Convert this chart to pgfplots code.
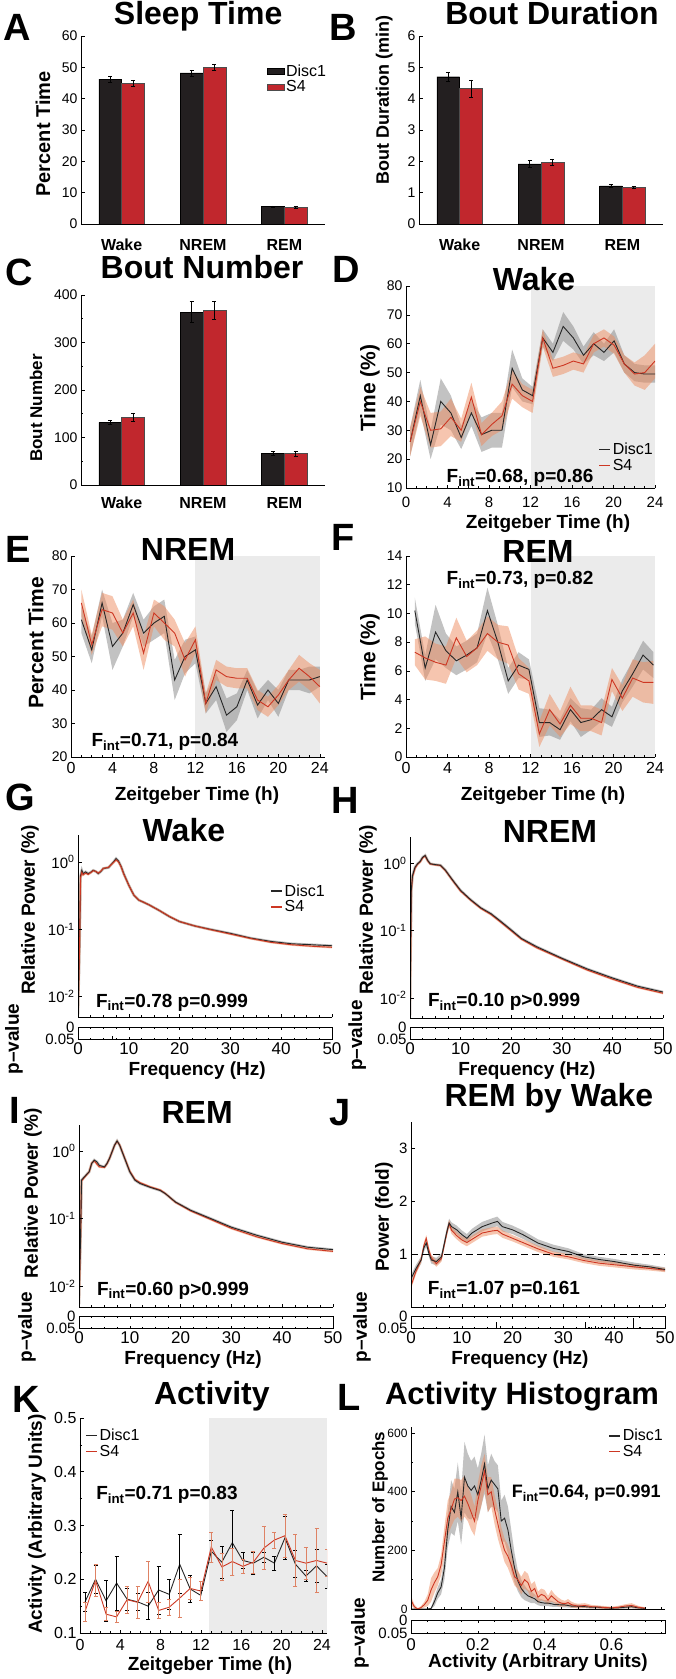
\documentclass[border=0pt]{standalone}
\usepackage{fontspec}
\setmainfont{Liberation Sans}
\usepackage{pgfplots}
\pgfplotsset{compat=1.18}
\usepackage{pgfplotstable}

\definecolor{barblk}{RGB}{35,31,32}
\definecolor{barred}{RGB}{193,39,45}
\definecolor{linered}{RGB}{205,55,35}
\definecolor{bandred}{RGB}{238,140,95}
\definecolor{bandgray}{RGB}{120,120,120}
\definecolor{shade}{RGB}{235,235,235}
\definecolor{errred}{RGB}{222,130,100}

\newcommand\ttl{\fontsize{32}{36}\selectfont\bfseries}
\newcommand\letr{\fontsize{38}{40}\selectfont\bfseries}
\newcommand\lab{\fontsize{19}{22}\selectfont\bfseries}
\newcommand\tck{\fontsize{14}{16}\selectfont}
\newcommand\xtck{\fontsize{16}{18}\selectfont}
\newcommand\ann{\fontsize{19}{22}\selectfont\bfseries}
\newcommand\leg{\fontsize{16}{18}\selectfont}
\newcommand\cat{\fontsize{16}{18}\selectfont\bfseries}

\pgfplotsset{
  every axis/.append style={scale only axis, axis on top,
    axis line style={line width=0.7pt, black},
    tick style={line width=0.6pt, black},
    major tick length=3.5pt, minor tick length=2pt, tick align=inside,
    tick label style={font=\tck},
    /pgf/number format/assume math mode=true,
    title style={font=\ttl}, label style={font=\lab},
    legend style={draw=none, fill=none, font=\leg, inner sep=0pt, row sep=-1pt},
    legend cell align=left},
  boxoff/.style={axis x line*=bottom, axis y line*=left},
  lineleg/.style={legend image code/.code={\draw[##1, line width=1.5pt] (0pt,0pt) -- (11pt,0pt);}},
  grayband/.style={fill=bandgray, fill opacity=0.45, draw=none, forget plot},
  redband/.style={fill=bandred, fill opacity=0.5, draw=none, forget plot},
  blkline/.style={black!85, line width=0.9pt},
  redline/.style={linered, line width=0.9pt},
  strip/.style={y dir=reverse, ymin=0, ymax=0.05, ytick={0,0.05}, yticklabels={0,0.05},
    scaled y ticks=false, scaled x ticks=false,
    major tick length=2.5pt, minor tick length=1.5pt,
    yticklabel style={font=\fontsize{15}{16}\selectfont},
    xticklabel style={font=\fontsize{17}{18}\selectfont, anchor=base, yshift=-15pt},
    ylabel={p–value}, xlabel style={anchor=base}, ylabel style={anchor=center}},
}

% band between mean-err and mean+err (stacked area), stack reset afterwards
\newcommand\band[5]{%
  \addplot[draw=none, forget plot, stack plots=y] table[x=#1, y expr=\thisrow{#2}-\thisrow{#3}] {#4};
  \addplot[#5, stack plots=y] table[x=#1, y expr=2*\thisrow{#3}] {#4} \closedcycle;
  \addplot[draw=none, forget plot, stack plots=y] table[x=#1, y expr=-\thisrow{#2}-\thisrow{#3}] {#4};
}

\pgfplotstableread{
x b be r re
1 46.2 0.9 44.8 1.0
2 48.2 0.9 49.9 1.0
3 5.6 0.2 5.3 0.4
}\Atab
\pgfplotstableread{
x b be r re
1 4.70 0.15 4.32 0.28
2 1.92 0.10 1.97 0.11
3 1.22 0.05 1.17 0.04
}\Btab
\pgfplotstableread{
x b be r re
1 132 4 143 9
2 364 22 367 19
3 66 4 66 6
}\Ctab

\pgfplotstableread{
x bm be rm re
0.40 26 5 26 5
1.38 42 5.5 40 5
2.37 25 5 30 6
3.35 40 8 30.5 6
4.33 36 6 34.5 6.5
5.32 27.5 4 30 4
6.30 36 4.5 41.5 5
7.28 28.5 6 28.5 4
8.26 30 6 32 4
9.25 30 6 35 5
10.23 51.5 6.5 46 5
11.21 44 4 42 4
12.20 42 3 40 4
13.18 62 3 62 3
14.16 57 3 51.5 3
15.15 66 5 52.5 3
16.13 62 4 54 3
17.11 56 3 53 3
18.09 60 4 60 3
19.08 57 3 62 3
20.06 61 4 59.5 3
21.04 53 3 53 3
22.03 50 3 49.5 4
23.01 49.5 3 50 6
24.00 49.5 3 54 6
}\Dtab

\pgfplotstableread{
x bm be rm re
1 61 4 66 4
2 52 4 53.5 3
3 66 4 64 5
4 53 7 63 5
5 57 4 57 4
6 65.5 3.5 63 4
7 57 4 51 5
8 60 5 63 4
9 62 5 60 5
10 43 6 57 4
11 50 5 49 5
12 52 4 55 4
13 36 3 36 3
14 41 4 46 3
15 32.5 5 44 3
16 35 4 43.5 3
17 43 3 43.5 3
18 35.5 4 37 3
19 40 3 35 3
20 36 4 38.5 3
21 43 3 43 3
22 43 3 46.5 4
23 43 4 44 4
24 44 3 41 5
}\Etab

\pgfplotstableread{
x bm be rm re
0.85 10.2 0.9 7.3 0.9
1.85 6.2 0.9 6.9 1.5
2.85 8.7 1.9 6.6 1.3
3.85 7.4 1.2 6.4 1.3
4.85 6.7 1.0 8.3 1.4
5.85 7.1 1.0 7.0 1.1
6.85 7.6 1.0 7.6 1.2
7.85 10.2 1.6 8.6 1.2
8.85 8.0 1.2 8.0 1.2
9.85 5.3 0.9 7.8 1.3
10.85 6.4 0.9 5.8 1.1
11.85 6.1 0.7 5.3 0.9
12.85 2.4 1.0 1.6 0.9
13.85 2.4 0.9 3.3 1.1
14.85 1.9 0.7 2.3 0.9
15.85 3.3 0.8 3.6 1.3
16.85 2.4 1.0 2.7 0.9
17.85 2.6 0.7 2.7 0.9
18.85 3.3 0.8 2.4 0.9
19.85 2.8 0.7 5.4 0.8
20.85 4.6 0.8 4.1 0.9
21.85 5.8 0.9 5.5 1.3
22.85 7.1 1.0 5.2 1.4
23.85 6.4 0.9 5.2 1.5
}\Ftab

\pgfplotstableread{
f bm rm
0 0.0055 0.0055
0.3 0.05 0.05
0.5 0.62 0.58
0.75 0.75 0.70
1 0.67 0.64
1.5 0.71 0.68
2 0.67 0.65
2.5 0.70 0.69
3 0.75 0.74
3.5 0.72 0.72
4 0.67 0.68
4.5 0.72 0.73
5 0.80 0.80
6 0.82 0.83
7 1.00 0.98
7.5 1.12 1.07
8 1.02 0.99
8.5 0.85 0.84
9 0.67 0.66
10 0.45 0.45
11 0.32 0.32
12 0.27 0.27
13 0.25 0.25
14 0.23 0.23
16 0.19 0.19
18 0.154 0.155
20 0.13 0.13
23 0.112 0.112
26 0.100 0.099
30 0.087 0.085
34 0.074 0.073
38 0.066 0.064
42 0.061 0.059
46 0.059 0.056
50 0.057 0.054
}\Gtab

\pgfplotstableread{
f bm rm
0 0.0055 0.0055
0.25 0.4 0.38
0.5 0.67 0.64
1 0.89 0.86
1.5 1.0 0.98
2 1.08 1.06
2.5 1.25 1.22
3 1.33 1.30
3.5 1.12 1.10
4 1.0 0.99
5 0.97 0.96
6 0.95 0.94
7 0.80 0.79
8 0.63 0.62
9 0.50 0.49
10 0.40 0.39
12 0.29 0.285
14 0.22 0.215
16 0.18 0.175
18 0.137 0.133
20 0.103 0.100
22 0.077 0.075
25 0.058 0.056
30 0.039 0.038
35 0.027 0.026
40 0.0198 0.019
45 0.0149 0.0143
50 0.0122 0.0117
}\Htab

\pgfplotstableread{
f bm rm
0 0.0055 0.0055
0.3 0.05 0.05
0.5 0.37 0.36
1 0.41 0.40
2 0.49 0.49
2.5 0.65 0.66
3 0.73 0.71
3.5 0.69 0.64
4 0.61 0.58
5 0.58 0.57
5.5 0.65 0.64
6 0.77 0.77
7 1.21 1.20
7.5 1.40 1.38
8 1.21 1.22
9 0.77 0.78
10 0.49 0.50
11 0.37 0.38
12 0.33 0.34
14 0.29 0.295
16 0.26 0.265
17 0.234 0.235
19 0.176 0.174
22 0.133 0.130
26 0.100 0.097
30 0.075 0.072
35 0.057 0.054
40 0.045 0.043
45 0.038 0.036
50 0.035 0.033
}\Itab

\pgfplotstableread{
f bm be rm re
0 0.54 0.07 0.40 0.06
1 0.73 0.07 0.68 0.06
2 0.89 0.07 0.90 0.06
2.5 1.11 0.07 1.15 0.06
3 1.21 0.07 1.30 0.06
3.5 1.02 0.07 1.08 0.06
4 0.89 0.07 0.93 0.06
5 0.86 0.07 0.82 0.06
6 0.95 0.07 0.92 0.06
7 1.40 0.08 1.38 0.07
7.5 1.59 0.08 1.58 0.07
8 1.52 0.08 1.45 0.07
9 1.46 0.08 1.35 0.07
10 1.37 0.08 1.27 0.07
11 1.30 0.08 1.22 0.07
12 1.40 0.08 1.28 0.07
14 1.52 0.09 1.40 0.07
16 1.59 0.09 1.44 0.07
17 1.62 0.09 1.45 0.07
18 1.52 0.09 1.38 0.07
20 1.46 0.08 1.30 0.06
22 1.37 0.08 1.22 0.06
25 1.21 0.07 1.10 0.06
28 1.11 0.07 1.00 0.05
31 1.05 0.06 0.95 0.05
34 0.95 0.05 0.88 0.05
37 0.90 0.05 0.83 0.05
40 0.86 0.05 0.80 0.05
44 0.79 0.05 0.76 0.05
47 0.76 0.04 0.73 0.04
50 0.71 0.04 0.70 0.04
}\Jtab

\pgfplotstableread{
x bm be rm re
0.50 0.158 0.017 0.140 0.018
1.54 0.200 0.026 0.198 0.030
2.59 0.160 0.038 0.135 0.012
3.63 0.193 0.050 0.130 0.010
4.67 0.163 0.020 0.162 0.025
5.72 0.158 0.015 0.157 0.030
6.76 0.150 0.025 0.196 0.038
7.80 0.180 0.045 0.142 0.015
8.85 0.172 0.028 0.148 0.015
9.89 0.228 0.055 0.165 0.035
10.93 0.182 0.025 0.183 0.020
11.98 0.170 0.010 0.178 0.018
13.02 0.252 0.020 0.260 0.028
14.07 0.232 0.030 0.223 0.025
15.11 0.268 0.060 0.233 0.025
16.15 0.235 0.015 0.224 0.013
17.20 0.230 0.020 0.232 0.020
18.24 0.241 0.010 0.258 0.040
19.28 0.230 0.013 0.273 0.015
20.33 0.277 0.040 0.281 0.040
21.37 0.228 0.025 0.235 0.048
22.41 0.206 0.010 0.230 0.030
23.46 0.225 0.030 0.235 0.060
24.50 0.205 0.022 0.230 0.025
}\Ktab

\pgfplotstableread{
x bm be rm re
0.00 0 0 30 15
0.01 0 0 8 8
0.02 0 0 0 3
0.03 0 0 5 5
0.04 0 0 15 10
0.05 0 0 30 20
0.06 2 3 65 40
0.07 25 15 90 35
0.08 55 20 110 30
0.09 75 25 150 35
0.10 140 40 230 50
0.11 270 60 310 60
0.12 350 90 340 60
0.13 330 80 375 70
0.14 400 100 380 65
0.15 310 90 370 70
0.16 450 120 385 70
0.17 420 110 360 60
0.18 405 100 330 60
0.19 420 100 300 50
0.20 390 90 370 60
0.21 440 90 420 70
0.22 495 100 470 60
0.23 410 80 390 60
0.24 440 90 400 50
0.25 425 80 340 50
0.26 410 80 290 50
0.27 300 70 240 40
0.28 310 80 200 40
0.29 270 80 180 40
0.30 200 70 150 40
0.31 140 50 110 30
0.32 95 35 100 30
0.33 70 30 80 30
0.34 55 25 100 30
0.35 45 20 90 30
0.36 40 20 60 25
0.37 35 15 70 25
0.38 25 12 40 20
0.39 22 12 50 20
0.40 20 10 45 20
0.41 20 10 30 15
0.42 18 10 45 20
0.43 15 8 35 15
0.44 15 8 25 15
0.45 14 8 20 12
0.46 14 8 18 10
0.47 12 7 22 12
0.48 10 6 15 10
0.49 10 6 12 8
0.50 9 6 10 8
0.52 8 5 12 8
0.54 6 5 8 6
0.56 6 5 7 5
0.58 4 4 5 5
0.60 3 3 4 4
0.62 4 4 6 5
0.64 6 5 10 6
0.66 8 6 12 8
0.68 4 4 6 5
0.70 2 2 3 3
}\Ltab

\begin{document}
\begin{tikzpicture}
\path[use as bounding box] (0,0) rectangle (675pt,-1679pt);

% ---------------- A
\begin{axis}[boxoff, at={(81pt,-224pt)}, anchor=south west, width=244pt, height=188pt,
  xmin=0.5, xmax=3.5, ymin=0, ymax=60, xtick={1,2,3}, xticklabels={Wake,NREM,REM},
  xtick style={draw=none}, xticklabel style={font=\cat, anchor=base, yshift=-23pt},
  ytick={0,10,...,60}, ybar, bar width=0.28,
  title={Sleep Time}, title style={at={(axis description cs:0.48,1.027)}, anchor=base},
  ylabel={Percent Time}, ylabel style={font=\fontsize{20}{22}\selectfont\bfseries, at={(axis description cs:-0.156,0.479)}, anchor=center},
  legend style={at={(axis description cs:0.76,0.86)}, anchor=north west}, area legend]
\addplot[fill=barblk, draw=black, line width=0.4pt, bar shift=-0.14,
  error bars/.cd, y dir=both, y explicit, error bar style={line width=0.6pt, black},
  error mark options={rotate=90, mark size=2pt, line width=0.6pt, black}]
  table[x=x, y=b, y error=be]{\Atab};
\addlegendentry{Disc1}
\addplot[fill=barred, draw=black!70, line width=0.4pt, bar shift=0.14,
  error bars/.cd, y dir=both, y explicit, error bar style={line width=0.6pt, black},
  error mark options={rotate=90, mark size=2pt, line width=0.6pt, black}]
  table[x=x, y=r, y error=re]{\Atab};
\addlegendentry{S4}
\end{axis}

% ---------------- B
\begin{axis}[boxoff, at={(419pt,-224pt)}, anchor=south west, width=244pt, height=188pt,
  xmin=0.5, xmax=3.5, ymin=0, ymax=6, xtick={1,2,3}, xticklabels={Wake,NREM,REM},
  xtick style={draw=none}, xticklabel style={font=\cat, anchor=base, yshift=-23pt},
  ytick={0,1,...,6}, ybar, bar width=0.28,
  title={Bout Duration}, title style={at={(axis description cs:0.545,1.027)}, anchor=base},
  ylabel={Bout Duration (min)}, ylabel style={font=\fontsize{18}{20}\selectfont\bfseries, at={(axis description cs:-0.143,0.66)}, anchor=center}]
\addplot[fill=barblk, draw=black, line width=0.4pt, bar shift=-0.14,
  error bars/.cd, y dir=both, y explicit, error bar style={line width=0.6pt, black},
  error mark options={rotate=90, mark size=2pt, line width=0.6pt, black}]
  table[x=x, y=b, y error=be]{\Btab};
\addplot[fill=barred, draw=black!70, line width=0.4pt, bar shift=0.14,
  error bars/.cd, y dir=both, y explicit, error bar style={line width=0.6pt, black},
  error mark options={rotate=90, mark size=2pt, line width=0.6pt, black}]
  table[x=x, y=r, y error=re]{\Btab};
\end{axis}

% ---------------- C
\begin{axis}[boxoff, at={(81pt,-485pt)}, anchor=south west, width=244pt, height=190pt,
  xmin=0.5, xmax=3.5, ymin=0, ymax=400, xtick={1,2,3}, xticklabels={Wake,NREM,REM},
  xtick style={draw=none}, xticklabel style={font=\cat, anchor=base, yshift=-20pt},
  ytick={0,100,...,400}, minor ytick={50,150,250,350}, ybar, bar width=0.28,
  title={Bout Number}, title style={at={(axis description cs:0.496,1.053)}, anchor=base},
  ylabel={Bout Number}, ylabel style={font=\fontsize{17}{20}\selectfont\bfseries, at={(axis description cs:-0.184,0.405)}, anchor=center}]
\addplot[fill=barblk, draw=black, line width=0.4pt, bar shift=-0.14,
  error bars/.cd, y dir=both, y explicit, error bar style={line width=0.6pt, black},
  error mark options={rotate=90, mark size=2pt, line width=0.6pt, black}]
  table[x=x, y=b, y error=be]{\Ctab};
\addplot[fill=barred, draw=black!70, line width=0.4pt, bar shift=0.14,
  error bars/.cd, y dir=both, y explicit, error bar style={line width=0.6pt, black},
  error mark options={rotate=90, mark size=2pt, line width=0.6pt, black}]
  table[x=x, y=r, y error=re]{\Ctab};
\end{axis}

% ---------------- D
\begin{axis}[boxoff, at={(406pt,-488pt)}, anchor=south west, width=249pt, height=202pt,
  xmin=0, xmax=24, ymin=10, ymax=80, xtick={0,4,...,24}, minor xtick={0,1,...,24}, ytick={10,20,...,80},
  xticklabel style={font=\fontsize{15}{16}\selectfont, anchor=base, yshift=-19pt},
  title={Wake}, title style={at={(axis description cs:0.514,0.946)}, anchor=base},
  ylabel={Time (\%)}, ylabel style={font=\fontsize{21}{22}\selectfont\bfseries, at={(axis description cs:-0.145,0.495)}, anchor=center},
  xlabel={Zeitgeber Time (h)}, xlabel style={at={(axis description cs:0.570,-0.198)}, anchor=base},
  legend style={at={(axis description cs:1,0.07)}, anchor=south east}, lineleg]
\addplot[fill=shade, draw=none, forget plot] coordinates {(12,10) (24,10) (24,80) (12,80)};
\band{x}{bm}{be}{\Dtab}{grayband}
\band{x}{rm}{re}{\Dtab}{redband}
\addplot[blkline] table[x=x, y=bm]{\Dtab}; \addlegendentry{Disc1}
\addplot[redline] table[x=x, y=rm]{\Dtab}; \addlegendentry{S4}
\node[anchor=base, font=\ann] at (axis description cs:0.458,0.025) {F\textsubscript{int}=0.68, p=0.86};
\end{axis}

% ---------------- E
\begin{axis}[boxoff, at={(71pt,-757pt)}, anchor=south west, width=254pt, height=201pt,
  xmin=0, xmax=24.5, ymin=20, ymax=80, xtick={0,4,...,24}, minor xtick={0,1,...,24}, ytick={20,30,...,80},
  xticklabel style={font=\xtck, anchor=base, yshift=-16pt},
  title={NREM}, title style={at={(axis description cs:0.461,0.950)}, anchor=base},
  ylabel={Percent Time}, ylabel style={font=\fontsize{21}{22}\selectfont\bfseries, at={(axis description cs:-0.138,0.567)}, anchor=center},
  xlabel={Zeitgeber Time (h)}, xlabel style={at={(axis description cs:0.496,-0.214)}, anchor=base}]
\addplot[fill=shade, draw=none, forget plot] coordinates {(12,20) (24,20) (24,80) (12,80)};
\band{x}{bm}{be}{\Etab}{grayband}
\band{x}{rm}{re}{\Etab}{redband}
\addplot[blkline] table[x=x, y=bm]{\Etab};
\addplot[redline] table[x=x, y=rm]{\Etab};
\node[anchor=base, font=\ann] at (axis description cs:0.370,0.050) {F\textsubscript{int}=0.71, p=0.84};
\end{axis}

% ---------------- F
\begin{axis}[boxoff, at={(406pt,-757pt)}, anchor=south west, width=249pt, height=201pt,
  xmin=0, xmax=24, ymin=0, ymax=14, xtick={0,4,...,24}, minor xtick={0,1,...,24}, ytick={0,2,...,14},
  xticklabel style={font=\xtck, anchor=base, yshift=-16pt},
  title={REM}, title style={at={(axis description cs:0.530,0.940)}, anchor=base},
  ylabel={Time (\%)}, ylabel style={font=\fontsize{21}{22}\selectfont\bfseries, at={(axis description cs:-0.145,0.498)}, anchor=center},
  xlabel={Zeitgeber Time (h)}, xlabel style={at={(axis description cs:0.550,-0.214)}, anchor=base}]
\addplot[fill=shade, draw=none, forget plot] coordinates {(12,0) (24,0) (24,14) (12,14)};
\band{x}{bm}{be}{\Ftab}{grayband}
\band{x}{rm}{re}{\Ftab}{redband}
\addplot[blkline] table[x=x, y=bm]{\Ftab};
\addplot[redline] table[x=x, y=rm]{\Ftab};
\node[anchor=base, font=\ann] at (axis description cs:0.458,0.856) {F\textsubscript{int}=0.73, p=0.82};
\end{axis}

% ---------------- G
\begin{axis}[boxoff, ymode=log, at={(78pt,-1017pt)}, anchor=south west, width=254pt, height=182pt,
  xmin=0, xmax=50, ymin=0.005, ymax=2.5, xtick={0,10,...,50}, minor xtick={0,2.5,...,50}, xticklabels={},
  ytick={0.01,0.1,1}, yticklabels={10\textsuperscript{-2},10\textsuperscript{-1},10\textsuperscript{0}}, yminorticks=false,
  yticklabel style={font=\fontsize{15}{16}\selectfont},
  title={Wake}, title style={at={(axis description cs:0.417,0.934)}, anchor=base},
  ylabel={Relative Power (\%)}, ylabel style={at={(axis description cs:-0.189,0.588)}, anchor=center},
  legend style={at={(axis description cs:0.98,0.74)}, anchor=north east}, lineleg]
\addplot[bandgray, opacity=0.45, line width=2.6pt, forget plot] table[x=f, y=bm]{\Gtab};
\addplot[bandred, opacity=0.5, line width=2.2pt, forget plot] table[x=f, y=rm]{\Gtab};
\addplot[blkline] table[x=f, y=bm]{\Gtab}; \addlegendentry{Disc1}
\addplot[redline] table[x=f, y=rm]{\Gtab}; \addlegendentry{S4}
\node[anchor=base, font=\ann] at (axis description cs:0.370,0.055) {F\textsubscript{int}=0.78 p=0.999};
\end{axis}
\begin{axis}[strip, at={(78pt,-1039pt)}, anchor=south west, width=254pt, height=12pt,
  xmin=0, xmax=50, xtick={0,10,...,50}, minor xtick={0,2.5,...,50},
  ylabel style={at={(axis description cs:-0.252,0)}},
  xlabel={Frequency (Hz)}, xlabel style={at={(axis description cs:0.469,-3.0)}}]
\addplot[black, line width=0.8pt] coordinates {(6.7,0.05) (6.7,0.036)};
\end{axis}

% ---------------- H
\begin{axis}[boxoff, ymode=log, at={(410pt,-1018pt)}, anchor=south west, width=253pt, height=181pt,
  xmin=0, xmax=50, ymin=0.005, ymax=2.5, xtick={0,10,...,50}, minor xtick={0,2.5,...,50}, xticklabels={},
  ytick={0.01,0.1,1}, yticklabels={10\textsuperscript{-2},10\textsuperscript{-1},10\textsuperscript{0}}, yminorticks=false,
  yticklabel style={font=\fontsize{15}{16}\selectfont},
  title={NREM}, title style={at={(axis description cs:0.553,0.939)}, anchor=base},
  ylabel={Relative Power (\%)}, ylabel style={at={(axis description cs:-0.166,0.597)}, anchor=center}]
\addplot[bandgray, opacity=0.45, line width=2.6pt, forget plot] table[x=f, y=bm]{\Htab};
\addplot[bandred, opacity=0.5, line width=2.2pt, forget plot] table[x=f, y=rm]{\Htab};
\addplot[redline] table[x=f, y=rm]{\Htab};
\addplot[blkline] table[x=f, y=bm]{\Htab};
\node[anchor=base, font=\ann] at (axis description cs:0.372,0.061) {F\textsubscript{int}=0.10 p>0.999};
\end{axis}
\begin{axis}[strip, at={(410pt,-1039pt)}, anchor=south west, width=253pt, height=12pt,
  xmin=0, xmax=50, xtick={0,10,...,50}, minor xtick={0,2.5,...,50},
  ylabel style={at={(axis description cs:-0.209,0.3)}},
  xlabel={Frequency (Hz)}, xlabel style={at={(axis description cs:0.462,-3.0)}}]
\addplot[draw=none] coordinates {(0,0.05) (50,0.05)};
\end{axis}

% ---------------- I
\begin{axis}[boxoff, ymode=log, at={(79pt,-1307pt)}, anchor=south west, width=254pt, height=182pt,
  xmin=0, xmax=50, ymin=0.005, ymax=2.4, xtick={0,10,...,50}, minor xtick={0,2.5,...,50}, xticklabels={},
  ytick={0.01,0.1,1}, yticklabels={10\textsuperscript{-2},10\textsuperscript{-1},10\textsuperscript{0}}, yminorticks=false,
  yticklabel style={font=\fontsize{15}{16}\selectfont},
  title={REM}, title style={at={(axis description cs:0.465,0.973)}, anchor=base},
  ylabel={Relative Power (\%)}, ylabel style={at={(axis description cs:-0.181,0.626)}, anchor=center}]
\addplot[bandgray, opacity=0.45, line width=2.6pt, forget plot] table[x=f, y=bm]{\Itab};
\addplot[bandred, opacity=0.5, line width=2.2pt, forget plot] table[x=f, y=rm]{\Itab};
\addplot[redline] table[x=f, y=rm]{\Itab};
\addplot[blkline] table[x=f, y=bm]{\Itab};
\node[anchor=base, font=\ann] at (axis description cs:0.370,0.066) {F\textsubscript{int}=0.60 p>0.999};
\end{axis}
\begin{axis}[strip, at={(79pt,-1328pt)}, anchor=south west, width=254pt, height=12pt,
  xmin=0, xmax=50, xtick={0,10,...,50}, minor xtick={0,2.5,...,50},
  ylabel style={at={(axis description cs:-0.205,0.08)}},
  xlabel={Frequency (Hz)}, xlabel style={at={(axis description cs:0.449,-3.08)}}]
\addplot[draw=none] coordinates {(0,0.05) (50,0.05)};
\end{axis}

% ---------------- J
\begin{axis}[boxoff, at={(411pt,-1307pt)}, anchor=south west, width=254pt, height=185pt,
  xmin=0, xmax=50, ymin=0, ymax=3.5, xtick={0,10,...,50}, minor xtick={0,2.5,...,50}, xticklabels={},
  ytick={1,2,3}, yticklabel style={font=\fontsize{15}{16}\selectfont},
  title={REM by Wake}, title style={at={(axis description cs:0.543,1.049)}, anchor=base},
  ylabel={Power (fold)}, ylabel style={at={(axis description cs:-0.106,0.486)}, anchor=center}]
\band{f}{bm}{be}{\Jtab}{grayband}
\band{f}{rm}{re}{\Jtab}{redband}
\addplot[redline] table[x=f, y=rm]{\Jtab};
\addplot[blkline] table[x=f, y=bm]{\Jtab};
\addplot[black, line width=0.8pt, dash pattern=on 7pt off 4pt] coordinates {(0,1) (50,1)};
\node[anchor=base, font=\ann] at (axis description cs:0.366,0.065) {F\textsubscript{int}=1.07 p=0.161};
\end{axis}
\begin{axis}[strip, at={(411pt,-1328pt)}, anchor=south west, width=254pt, height=12pt,
  xmin=0, xmax=50, xtick={0,10,...,50}, minor xtick={0,2.5,...,50},
  ylabel style={at={(axis description cs:-0.193,0.08)}},
  xlabel={Frequency (Hz)}, xlabel style={at={(axis description cs:0.429,-3.08)}},
  unbounded coords=jump]
\addplot[black, line width=0.8pt] coordinates {
 (16.9,0.05) (16.9,0.023) (nan,nan)
 (17.6,0.05) (17.6,0.042) (nan,nan)
 (34.3,0.05) (34.3,0.023) (nan,nan)
 (35.0,0.05) (35.0,0.044) (nan,nan)
 (35.6,0.05) (35.6,0.045) (nan,nan)
 (36.3,0.05) (36.3,0.043) (nan,nan)
 (36.9,0.05) (36.9,0.044) (nan,nan)
 (37.6,0.05) (37.6,0.045) (nan,nan)
 (38.2,0.05) (38.2,0.044) (nan,nan)
 (38.9,0.05) (38.9,0.045) (nan,nan)
 (39.5,0.05) (39.5,0.044) (nan,nan)
 (43.8,0.05) (43.8,0.009) (nan,nan)
 (45.2,0.05) (45.2,0.044)};
\end{axis}

% ---------------- K
\begin{axis}[boxoff, at={(80pt,-1633pt)}, anchor=south west, width=247pt, height=215pt,
  xmin=0, xmax=24.5, ymin=0.1, ymax=0.5, xtick={0,4,...,24}, minor xtick={0,1,...,24},
  ytick={0.1,0.2,...,0.5}, minor ytick={0.15,0.25,0.35,0.45},
  yticklabel style={font=\fontsize{16}{17}\selectfont, /pgf/number format/fixed, /pgf/number format/precision=1},
  xticklabel style={font=\xtck, anchor=base, yshift=-17pt},
  title={Activity}, title style={at={(axis description cs:0.534,1.037)}, anchor=base},
  ylabel={Activity (Arbitrary Units)}, ylabel style={at={(axis description cs:-0.174,0.507)}, anchor=center},
  xlabel={Zeitgeber Time (h)}, xlabel style={at={(axis description cs:0.526,-0.172)}, anchor=base},
  legend style={at={(axis description cs:0.02,0.96)}, anchor=north west}, lineleg]
\addplot[fill=shade, draw=none, forget plot] coordinates {(12.8,0.1) (24.5,0.1) (24.5,0.5) (12.8,0.5)};
\addplot[blkline, error bars/.cd, y dir=both, y explicit, error bar style={line width=0.6pt, black},
  error mark options={rotate=90, mark size=2pt, line width=0.6pt, black}]
  table[x=x, y=bm, y error=be]{\Ktab};
\addlegendentry{Disc1}
\addplot[redline, error bars/.cd, y dir=both, y explicit, error bar style={line width=0.6pt, errred},
  error mark options={rotate=90, mark size=2pt, line width=0.6pt, errred}]
  table[x=x, y=rm, y error=re]{\Ktab};
\addlegendentry{S4}
\node[anchor=base, font=\ann] at (axis description cs:0.352,0.619) {F\textsubscript{int}=0.71 p=0.83};
\end{axis}

% ---------------- L
\begin{axis}[boxoff, at={(411pt,-1609pt)}, anchor=south west, width=254pt, height=182pt,
  xmin=0, xmax=0.76, ymin=0, ymax=621, xtick={0,0.2,0.4,0.6}, minor xtick={0,0.05,...,0.75}, xticklabels={},
  ytick={0,200,400,600}, minor ytick={100,300,500},
  yticklabel style={font=\fontsize{12}{13}\selectfont},
  title={Activity Histogram}, title style={font=\fontsize{31}{34}\selectfont\bfseries, at={(axis description cs:0.437,1.093)}, anchor=base},
  ylabel={Number of Epochs}, ylabel style={font=\fontsize{17}{20}\selectfont\bfseries, at={(axis description cs:-0.122,0.56)}, anchor=center},
  legend style={at={(axis description cs:1,1)}, anchor=north east}, lineleg]
\band{x}{bm}{be}{\Ltab}{grayband}
\band{x}{rm}{re}{\Ltab}{redband}
\addplot[blkline] table[x=x, y=bm]{\Ltab}; \addlegendentry{Disc1}
\addplot[redline] table[x=x, y=rm]{\Ltab}; \addlegendentry{S4}
\node[anchor=base, font=\fontsize{18}{20}\selectfont\bfseries] at (axis description cs:0.69,0.61) {F\textsubscript{int}=0.64, p=0.991};
\end{axis}
\begin{axis}[strip, at={(411pt,-1633pt)}, anchor=south west, width=254pt, height=13pt,
  xmin=0, xmax=0.76, xtick={0,0.2,0.4,0.6}, minor xtick={0,0.05,...,0.75},
  xticklabel style={yshift=-2pt},
  ylabel style={at={(axis description cs:-0.201,0)}},
  xlabel={Activity (Arbitrary Units)}, xlabel style={at={(axis description cs:0.5,-2.62)}}]
\addplot[draw=none] coordinates {(0,0.05) (0.7,0.05)};
\end{axis}

% panel letters
\node[anchor=base west, font=\letr, inner sep=0pt] at (3pt,-40pt) {A};
\node[anchor=base west, font=\letr, inner sep=0pt] at (329pt,-40pt) {B};
\node[anchor=base west, font=\letr, inner sep=0pt] at (5pt,-285pt) {C};
\node[anchor=base west, font=\letr, inner sep=0pt] at (332pt,-282pt) {D};
\node[anchor=base west, font=\letr, inner sep=0pt] at (5pt,-562pt) {E};
\node[anchor=base west, font=\letr, inner sep=0pt] at (331pt,-550pt) {F};
\node[anchor=base west, font=\letr, inner sep=0pt] at (5pt,-810pt) {G};
\node[anchor=base west, font=\letr, inner sep=0pt] at (331pt,-813pt) {H};
\node[anchor=base west, font=\letr, inner sep=0pt] at (9pt,-1123pt) {I};
\node[anchor=base west, font=\letr, inner sep=0pt] at (329pt,-1125pt) {J};
\node[anchor=base west, font=\letr, inner sep=0pt] at (12pt,-1412pt) {K};
\node[anchor=base west, font=\letr, inner sep=0pt] at (337pt,-1410pt) {L};
\end{tikzpicture}
\end{document}
